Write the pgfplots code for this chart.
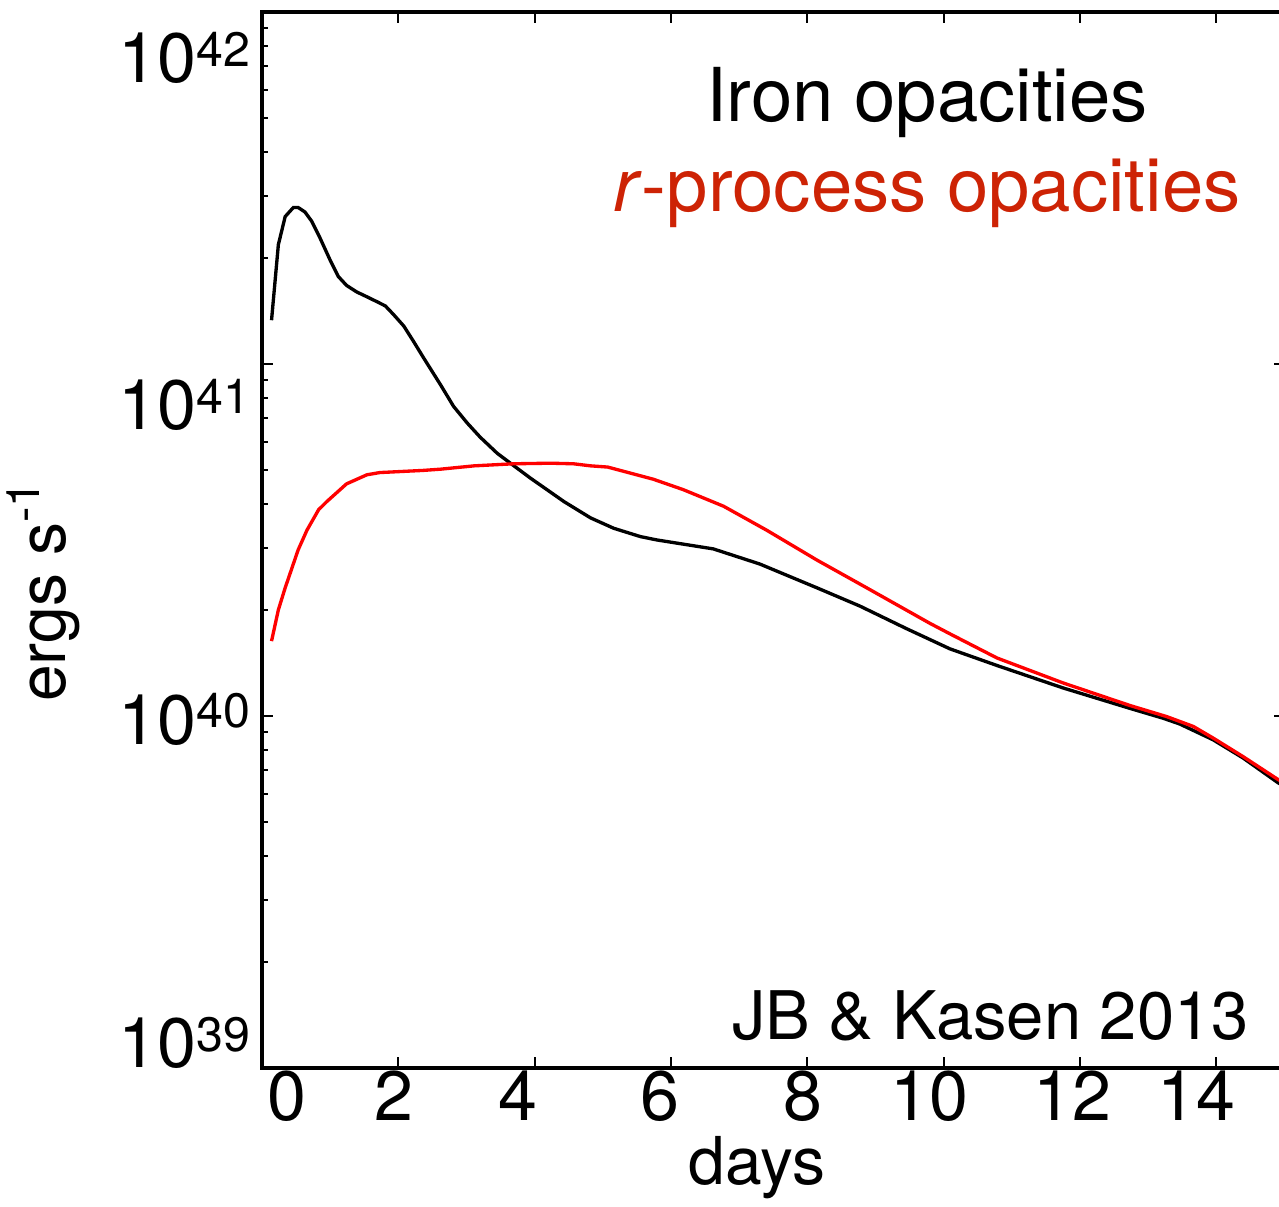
\documentclass[border=0pt]{standalone}
\usepackage{fontspec}
\setmainfont{TeX Gyre Heros}
\usepackage{pgfplots}
\pgfplotsset{compat=1.18}
\definecolor{rproc}{RGB}{205,35,5}
% y tick label: 10^k with its own vertical offset
\newcommand\ylab[2]{\raisebox{#1}[0pt][0pt]{10\raisebox{5pt}{\fontsize{14.5}{15}\selectfont #2}}}
% x tick label with a horizontal offset
\newcommand\xlab[2]{\makebox[0pt]{\hspace*{#1}\hspace*{#1}#2}}

\begin{document}
\begin{tikzpicture}
\begin{axis}[
  at={(0,0)}, anchor=south west,
  scale only axis, width=306.8pt, height=316.8pt,
  ymode=log, xmin=0, xmax=15, ymin=1e39, ymax=1e42,
  axis line style={line width=1.2pt},
  every tick/.style={black, line width=0.6pt},
  major tick length=3.3pt, minor tick length=1.8pt,
  xtick={0,2,4,6,8,10,12,14},
  xticklabels={\xlab{7.35pt}{0},\xlab{-1.44pt}{2},\xlab{-4.95pt}{4},\xlab{-3.24pt}{6},
               \xlab{-1.29pt}{8},\xlab{-4.32pt}{10},\xlab{-2.4pt}{12},\xlab{-6.06pt}{14}},
  ytick={1e39,1e40,1e41,1e42},
  minor ytick={2e39,3e39,4e39,5e39,6e39,7e39,8e39,9e39,
               2e40,3e40,4e40,5e40,6e40,7e40,8e40,9e40,
               2e41,3e41,4e41,5e41,6e41,7e41,8e41,9e41},
  yticklabels={\ylab{0pt}{39},\ylab{-8.5pt}{40},\ylab{-19.8pt}{41},\ylab{-21.3pt}{42}},
  /pgf/number format/assume math mode=true,
  tick label style={font=\fontsize{21}{25}\selectfont},
  xticklabel style={yshift=2.5pt},
  xlabel={days},
  ylabel={ergs s\textsuperscript{-1}},
  label style={font=\fontsize{19.8}{24}\selectfont},
  xlabel style={at={(axis description cs:0.484,0)}, anchor=base, yshift=-35.1pt},
  ylabel style={at={(axis description cs:-0.1926,0.4517)}, anchor=base},
]
% Iron opacities
\addplot[black, line width=1pt] table {
x L
0.14 1.33e41
0.24 2.18e41
0.34 2.62e41
0.46 2.78e41
0.53 2.78e41
0.63 2.70e41
0.73 2.54e41
0.85 2.28e41
1.00 1.97e41
1.12 1.77e41
1.24 1.67e41
1.39 1.60e41
1.54 1.55e41
1.69 1.50e41
1.81 1.46e41
1.93 1.38e41
2.08 1.28e41
2.22 1.16e41
2.37 1.04e41
2.62 8.71e40
2.81 7.57e40
3.01 6.79e40
3.20 6.19e40
3.45 5.57e40
3.69 5.14e40
3.94 4.73e40
4.18 4.39e40
4.43 4.06e40
4.82 3.65e40
5.16 3.41e40
5.55 3.23e40
5.79 3.16e40
6.62 2.98e40
7.30 2.70e40
8.14 2.31e40
8.77 2.05e40
9.45 1.77e40
10.09 1.55e40
10.78 1.39e40
11.75 1.20e40
12.73 1.05e40
13.22 9.84e39
13.46 9.48e39
13.95 8.55e39
14.39 7.59e39
14.91 6.44e39
15.10 6.20e39
};
% r-process opacities
\addplot[red, line width=1pt] table {
x L
0.14 1.63e40
0.24 2.00e40
0.34 2.31e40
0.53 2.96e40
0.66 3.37e40
0.83 3.85e40
0.95 4.06e40
1.24 4.56e40
1.54 4.84e40
1.73 4.91e40
2.37 4.98e40
2.62 5.02e40
3.11 5.13e40
3.69 5.20e40
4.23 5.22e40
4.57 5.20e40
4.82 5.13e40
5.07 5.09e40
5.74 4.70e40
6.18 4.39e40
6.77 3.94e40
7.40 3.37e40
8.14 2.77e40
8.87 2.31e40
9.80 1.83e40
10.09 1.71e40
10.78 1.46e40
11.75 1.24e40
12.73 1.07e40
13.27 9.95e39
13.66 9.33e39
13.95 8.65e39
14.39 7.66e39
14.91 6.58e39
15.10 6.30e39
};
\node[anchor=base, font=\fontsize{22.3}{26}\selectfont] at (rel axis cs:0.6502,0.8958) {Iron opacities};
\node[anchor=base, text=rproc, font=\fontsize{22.3}{26}\selectfont] at (rel axis cs:0.6502,0.8106) {\textit{r}-process opacities};
\node[anchor=base, font=\fontsize{20.1}{24}\selectfont] at (rel axis cs:0.7124,0.0265) {JB \& Kasen 2013};
\end{axis}
\pgfresetboundingbox
\path[use as bounding box] (-78.6pt,-41.7pt) rectangle (305.1pt,320.4pt);
\end{tikzpicture}
\end{document}
